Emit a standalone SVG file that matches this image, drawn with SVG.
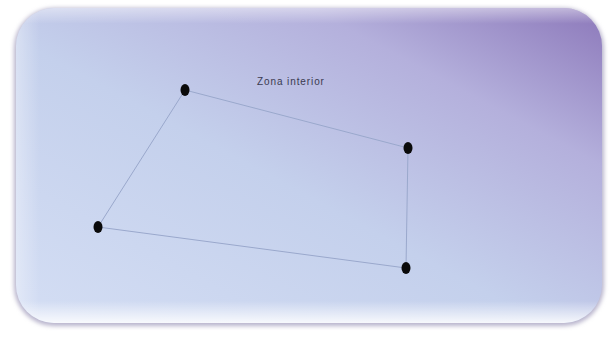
<svg xmlns="http://www.w3.org/2000/svg" width="615" height="353" viewBox="0 0 615 353">
<defs>
<linearGradient id="bg" x1="0" y1="1" x2="1" y2="0">
<stop offset="0" stop-color="#d4def4"/>
<stop offset="0.45" stop-color="#c4d0ec"/>
<stop offset="0.75" stop-color="#b4b0dc"/>
<stop offset="1" stop-color="#8c78ba"/>
</linearGradient>
<linearGradient id="edge" x1="0" y1="0" x2="0" y2="1">
<stop offset="0" stop-color="#ffffff" stop-opacity="0.45"/>
<stop offset="0.05" stop-color="#ffffff" stop-opacity="0"/>
<stop offset="0.93" stop-color="#ffffff" stop-opacity="0"/>
<stop offset="1" stop-color="#ffffff" stop-opacity="0.85"/>
</linearGradient>
<linearGradient id="side" x1="0" y1="0" x2="1" y2="0">
<stop offset="0" stop-color="#ffffff" stop-opacity="0.35"/>
<stop offset="0.04" stop-color="#ffffff" stop-opacity="0"/>
</linearGradient>
<filter id="sh" x="-5%" y="-5%" width="110%" height="110%">
<feGaussianBlur stdDeviation="2"/>
</filter>
<style>
.dot{fill:#0a0a0a}
.edge{fill:none;stroke:#9aa8cc;stroke-width:1}
.lbl{font-family:"Liberation Sans",Arial,sans-serif;font-size:10px;letter-spacing:0.9px;fill:#3a3a50}
</style>
</defs>
<rect width="615" height="353" fill="#ffffff"/>
<rect x="14" y="8" width="590" height="318" rx="40" fill="#b8b4cc" filter="url(#sh)"/>
<rect x="16" y="8" width="586" height="315" rx="38" fill="url(#bg)"/>
<rect x="16" y="8" width="586" height="315" rx="38" fill="url(#edge)"/>
<rect x="16" y="8" width="586" height="315" rx="38" fill="url(#side)"/>
<g id="connectors">
<polygon class="edge" points="185,90 408,148 406,268 98,227"/>
</g>
<g id="label"><text class="lbl" x="257" y="85">Zona interior</text></g>
<g id="p1"><ellipse class="dot" cx="185" cy="90" rx="4.5" ry="6"/></g>
<g id="p2"><ellipse class="dot" cx="408" cy="148" rx="4.5" ry="6"/></g>
<g id="p3"><ellipse class="dot" cx="98" cy="227" rx="4.5" ry="6"/></g>
<g id="p4"><ellipse class="dot" cx="406" cy="268" rx="4.5" ry="6"/></g>
</svg>
